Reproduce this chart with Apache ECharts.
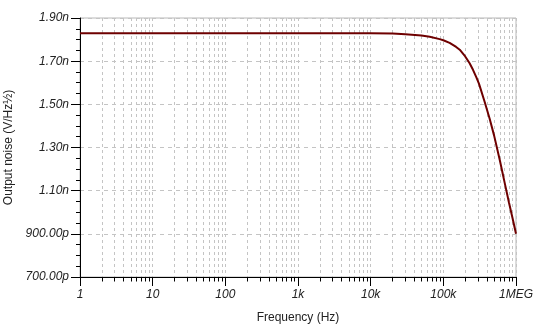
<!DOCTYPE html>
<html>
<head>
<meta charset="utf-8">
<script src="https://cdn.jsdelivr.net/npm/echarts@6/dist/echarts.min.js"></script>
<style>html,body{margin:0;padding:0;background:#fff}#c{width:546px;height:335px}</style>
</head>
<body>
<div id="c"></div>
<script>
// Frequency (Hz) and output noise (nV/√Hz)
var freqs = [1, 10, 100, 1000, 10000, 20000, 30000, 50000, 65000, 89000, 100000, 122000, 150000, 168000, 200000, 230000, 256000, 285000, 310000, 370000, 435000, 500000, 600000, 700000, 800000, 900000, 1000000];
var noise = [1.829, 1.829, 1.829, 1.829, 1.829, 1.828, 1.825, 1.819, 1.813, 1.802, 1.797, 1.785, 1.766, 1.753, 1.722, 1.690, 1.660, 1.625, 1.595, 1.512, 1.432, 1.355, 1.240, 1.135, 1.045, 0.970, 0.900];

var xMajorTicks = [1, 10, 100, 1000, 10000, 100000, 1000000];
var xTickLabels = ['1', '10', '100', '1k', '10k', '100k', '1MEG'];
var xMinorTicks = [];
[1, 10, 100, 1000, 10000, 100000].forEach(function (d) { for (var k = 2; k <= 9; k++) xMinorTicks.push(d * k); });

var yMajorTicks = [0.7, 0.9, 1.1, 1.3, 1.5, 1.7, 1.9];
var yTickLabels = ['700.00p', '900.00p', '1.10n', '1.30n', '1.50n', '1.70n', '1.90n'];
var yMinorTicks = [0.75, 0.8, 0.85, 0.95, 1.0, 1.05, 1.15, 1.2, 1.25, 1.35, 1.4, 1.45, 1.55, 1.6, 1.65, 1.75, 1.8, 1.85];

var font = 'Liberation Sans, Arial, sans-serif';
var chart = echarts.init(document.getElementById('c'), null, {renderer: 'canvas'});
var data = freqs.map(function (f, i) { return [f, noise[i]]; });

function xLabel(v) {
  for (var i = 0; i < xMajorTicks.length; i++) if (Math.abs(xMajorTicks[i] - v) / v < 1e-6) return xTickLabels[i];
  return '';
}
function yLabel(v) {
  for (var i = 0; i < yMajorTicks.length; i++) if (Math.abs(yMajorTicks[i] - v) < 1e-6) return yTickLabels[i];
  return '';
}

chart.setOption({
  animation: false,
  backgroundColor: '#ffffff',
  grid: {left: 80, right: 30, top: 18, bottom: 58, outerBoundsMode: 'none', containLabel: false, show: true, borderColor: '#b8b8b8', borderWidth: 1, backgroundColor: 'transparent'},
  xAxis: [{
    type: 'log', logBase: 10, min: 1, max: 1000000, position: 'bottom',
    name: 'Frequency (Hz)', nameLocation: 'middle', nameGap: 35,
    nameTextStyle: {fontFamily: font, fontSize: 12, color: '#222'},
    axisLine: {show: true, lineStyle: {color: '#000', width: 1}},
    axisTick: {show: true, length: 9, customValues: xMajorTicks, lineStyle: {color: '#000'}},
    axisLabel: {show: true, customValues: xMajorTicks, margin: 12, formatter: xLabel, fontFamily: font, fontStyle: 'italic', fontSize: 12, color: '#222'},
    splitLine: {show: true, lineStyle: {color: '#c4c4c4', type: [3, 3], width: 1}},
    minorTick: {show: false}
  }, {
    type: 'log', logBase: 10, min: 1, max: 1000000, position: 'bottom',
    axisLine: {show: false},
    axisTick: {show: true, length: 4.5, customValues: xMinorTicks, lineStyle: {color: '#000'}},
    axisLabel: {show: false},
    splitLine: {show: true, lineStyle: {color: '#c4c4c4', type: [3, 3], width: 1}}
  }],
  yAxis: [{
    type: 'value', min: 0.7, max: 1.9, position: 'left',
    name: 'Output noise (V/Hz½)', nameLocation: 'middle', nameGap: 59, nameRotate: 90,
    nameTextStyle: {fontFamily: font, fontSize: 12, color: '#222'},
    axisLine: {show: true, lineStyle: {color: '#000', width: 1}},
    axisTick: {show: true, length: 9, customValues: yMajorTicks, lineStyle: {color: '#000'}},
    axisLabel: {show: true, customValues: yMajorTicks, margin: 11, formatter: yLabel, fontFamily: font, fontStyle: 'italic', fontSize: 12, color: '#222'},
    splitLine: {show: true, lineStyle: {color: '#c4c4c4', type: [4, 4], width: 1}}
  }, {
    type: 'value', min: 0.7, max: 1.9, position: 'left',
    axisLine: {show: false},
    axisTick: {show: true, length: 4, customValues: yMinorTicks, lineStyle: {color: '#000'}},
    axisLabel: {show: false},
    splitLine: {show: false}
  }],
  series: [{
    type: 'line', xAxisIndex: 0, yAxisIndex: 0, data: data,
    showSymbol: false, symbol: 'none', smooth: false,
    lineStyle: {color: '#6e0000', width: 2}, z: 5
  }]
});
</script>
</body>
</html>
